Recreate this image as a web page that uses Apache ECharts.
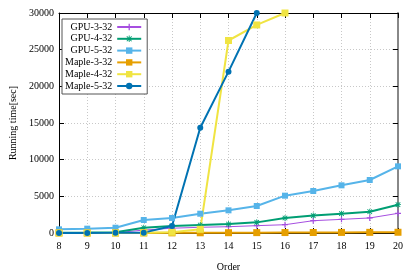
<!DOCTYPE html>
<html><head><meta charset="utf-8">
<script src="https://cdn.jsdelivr.net/npm/echarts@6/dist/echarts.min.js"></script>
<style>html,body{margin:0;padding:0;background:#fff}#c{width:415px;height:277px}</style>
</head><body><div id="c"></div>
<script>
const orders = [8, 9, 10, 11, 12, 13, 14, 15, 16, 17, 18, 19, 20];
const gpu3 = [10, 20, 30, 400, 650, 780, 860, 1000, 1130, 1680, 1860, 2050, 2680];
const gpu4 = [50, 60, 100, 720, 950, 1090, 1230, 1450, 2050, 2370, 2640, 2910, 3860];
const gpu5 = [500, 590, 720, 1770, 2050, 2630, 3090, 3680, 5090, 5730, 6500, 7230, 9090];
const maple3 = [1, 2, 5, 10, 20, 30, 40, 50, 60, 70, 80, 90, 100];
const maple4 = [1, 5, 10, 30, 100, 500, 26250, 28370, 30000];
const maple5 = [1, 5, 20, 50, 950, 14360, 22000, 30000];
const seriesNames = ['GPU-3-32', 'GPU-4-32', 'GPU-5-32', 'Maple-3-32', 'Maple-4-32', 'Maple-5-32'];
const yTicks = [0, 5000, 10000, 15000, 20000, 25000, 30000];

const font = 'Liberation Serif';
const plus = 'path://M4,0H6V4H10V6H6V10H4V6H0V4H4Z';
const star = 'path://M4.3,0H5.7V3.3L8.3,0.7L9.3,1.7L6.7,4.3H10V5.7H6.7L9.3,8.3L8.3,9.3L5.7,6.7V10H4.3V6.7L1.7,9.3L0.7,8.3L3.3,5.7H0V4.3H3.3L0.7,1.7L1.7,0.7L4.3,3.3Z';
const colors = ['#a64fe0', '#009e73', '#56b4e9', '#e69f00', '#f0e442', '#0072b2'];
const symbols = [plus, star, 'rect', 'rect', 'rect', 'circle'];
const sizes = [6, 6, 6, 7, 7, 6];
const widths = [1, 2, 2, 2, 2, 2];
const datas = [gpu3, gpu4, gpu5, maple3, maple4, maple5];

const series = datas.map((d, i) => ({
  name: seriesNames[i],
  type: 'line',
  data: d.map((v, j) => [orders[j], v]),
  symbol: symbols[i],
  symbolSize: sizes[i],
  showSymbol: true,
  lineStyle: { color: colors[i], width: widths[i] },
  itemStyle: { color: colors[i], borderWidth: 0 },
  emphasis: { disabled: true },
  animation: false,
  clip: true
}));

const chart = echarts.init(document.getElementById('c'), null, { renderer: 'canvas' });
const tickStyle = { show: true, inside: true, length: 5, lineStyle: { color: '#000', width: 1 } };
chart.setOption({
  backgroundColor: '#fff',
  animation: false,
  grid: { left: 57, right: 17, top: 13, bottom: 44, containLabel: false },
  legend: {
    orient: 'vertical',
    align: 'right',
    left: 62,
    top: 19,
    data: seriesNames,
    itemWidth: 24,
    itemHeight: 8,
    itemGap: 1.8,
    padding: [3, 5, 3, 3],
    backgroundColor: '#fff',
    borderColor: '#555',
    borderWidth: 1,
    borderRadius: 0,
    textStyle: { fontFamily: font, fontSize: 10, color: '#000' },
    selectedMode: false
  },
  xAxis: [{
    type: 'value', min: 8, max: 20, interval: 1,
    name: 'Order', nameLocation: 'middle', nameGap: 29,
    nameTextStyle: { fontFamily: font, fontSize: 10, color: '#000' },
    axisLine: { show: true, onZero: false, lineStyle: { color: '#000', width: 1 } },
    axisTick: tickStyle,
    axisLabel: { fontFamily: font, fontSize: 10, color: '#000', margin: 8 },
    splitLine: { show: true, lineStyle: { color: '#c8c8c8', type: [1, 2], width: 1 } }
  }, {
    type: 'value', min: 8, max: 20, interval: 1, position: 'top',
    axisLine: { show: true, onZero: false, lineStyle: { color: '#000', width: 1 } },
    axisTick: tickStyle, axisLabel: { show: false }, splitLine: { show: false }
  }],
  yAxis: [{
    type: 'value', min: 0, max: 30000, interval: 5000,
    name: 'Running time[sec]', nameLocation: 'middle', nameGap: 41, nameRotate: 90,
    nameTextStyle: { fontFamily: font, fontSize: 10, color: '#000' },
    axisLine: { show: true, onZero: false, lineStyle: { color: '#000', width: 1 } },
    axisTick: tickStyle,
    axisLabel: { fontFamily: font, fontSize: 10, color: '#000', margin: 5,
      formatter: v => yTicks.includes(v) ? String(v) : '' },
    splitLine: { show: true, lineStyle: { color: '#c8c8c8', type: [1, 2], width: 1 } }
  }, {
    type: 'value', min: 0, max: 30000, interval: 5000, position: 'right',
    axisLine: { show: true, onZero: false, lineStyle: { color: '#888', width: 2 } },
    axisTick: tickStyle, axisLabel: { show: false }, splitLine: { show: false }
  }],
  series: series
});
</script></body></html>
